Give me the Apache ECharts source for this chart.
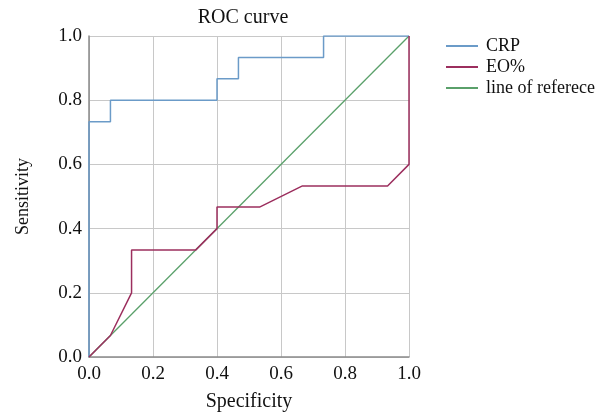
<!DOCTYPE html>
<html>
<head>
<meta charset="utf-8">
<script src="https://cdn.jsdelivr.net/npm/echarts@6/dist/echarts.min.js"></script>
<style>
  html, body { margin: 0; padding: 0; background: #fff; }
  #chart { width: 603px; height: 416px; }
</style>
</head>
<body>
<div id="chart"></div>
<script>
// ROC points as [1 - specificity, sensitivity]
const crpPoints = [
  [0, 0], [0, 0.733], [0.067, 0.733], [0.067, 0.8], [0.4, 0.8],
  [0.4, 0.867], [0.467, 0.867], [0.467, 0.933], [0.733, 0.933],
  [0.733, 1.0], [1.0, 1.0]
]
const eoPoints = [
  [0, 0], [0.067, 0.067], [0.133, 0.2], [0.133, 0.333], [0.333, 0.333],
  [0.4, 0.4], [0.4, 0.467], [0.533, 0.467], [0.667, 0.533],
  [0.933, 0.533], [1.0, 0.6], [1.0, 1.0]
]
const refPoints = [[0, 0], [1, 1]]
const seriesNames = ['CRP', 'EO%', 'line of referece']
const tickLabels = ['0.0', '0.2', '0.4', '0.6', '0.8', '1.0']

const colors = {
  crp: '#6b9bc8',
  eo: '#9c2f5e',
  ref: '#5aa06a',
  grid: '#c8c8c8',
  axis: '#8a8a8a',
  text: '#111'
}
const font = '"Liberation Serif", "Times New Roman", serif'

const chart = echarts.init(document.getElementById('chart'))

const option = {
  backgroundColor: '#fff',
  animation: false,
  title: {
    text: 'ROC curve',
    left: 238,
    top: 3,
    textAlign: 'center',
    textStyle: { fontFamily: font, fontSize: 20, fontWeight: 'normal', color: colors.text }
  },
  legend: {
    orient: 'vertical',
    left: 441,
    top: 31,
    itemWidth: 32,
    itemHeight: 10,
    itemGap: 1,
    icon: 'path://M0,4 L32,4 L32,6 L0,6 Z',
    data: seriesNames,
    textStyle: { fontFamily: font, fontSize: 18, lineHeight: 20, color: colors.text, padding: [0, 0, 0, 3] }
  },
  grid: { left: 89, right: 194, top: 36, bottom: 59, outerBoundsMode: 'none' },
  xAxis: {
    type: 'value',
    min: 0,
    max: 1,
    interval: 0.2,
    name: 'Specificity',
    nameLocation: 'middle',
    nameGap: 35,
    nameTextStyle: { fontFamily: font, fontSize: 20, color: colors.text },
    axisLine: { lineStyle: { color: colors.axis, width: 1.5 } },
    axisTick: { show: false },
    axisLabel: {
      fontFamily: font, fontSize: 19, color: colors.text, margin: 8,
      formatter: v => tickLabels[Math.round(v * 5)]
    },
    splitLine: { show: true, lineStyle: { color: colors.grid } }
  },
  yAxis: {
    type: 'value',
    min: 0,
    max: 1,
    interval: 0.2,
    name: 'Sensitivity',
    nameLocation: 'middle',
    nameGap: 57,
    nameTextStyle: { fontFamily: font, fontSize: 18, color: colors.text },
    axisLine: { show: true, lineStyle: { color: colors.axis, width: 1.5 } },
    axisTick: { show: false },
    axisLabel: {
      fontFamily: font, fontSize: 19, color: colors.text, margin: 7,
      formatter: v => tickLabels[Math.round(v * 5)]
    },
    splitLine: { show: true, lineStyle: { color: colors.grid } }
  },
  series: [
    {
      name: seriesNames[2],
      type: 'line',
      data: refPoints,
      symbol: 'none',
      lineStyle: { color: colors.ref, width: 1.3 },
      itemStyle: { color: colors.ref },
      z: 2
    },
    {
      name: seriesNames[0],
      type: 'line',
      data: crpPoints,
      symbol: 'none',
      lineStyle: { color: colors.crp, width: 1.5 },
      itemStyle: { color: colors.crp },
      z: 3
    },
    {
      name: seriesNames[1],
      type: 'line',
      data: eoPoints,
      symbol: 'none',
      lineStyle: { color: colors.eo, width: 1.5 },
      itemStyle: { color: colors.eo },
      z: 4
    }
  ]
}

chart.setOption(option)
</script>
</body>
</html>
